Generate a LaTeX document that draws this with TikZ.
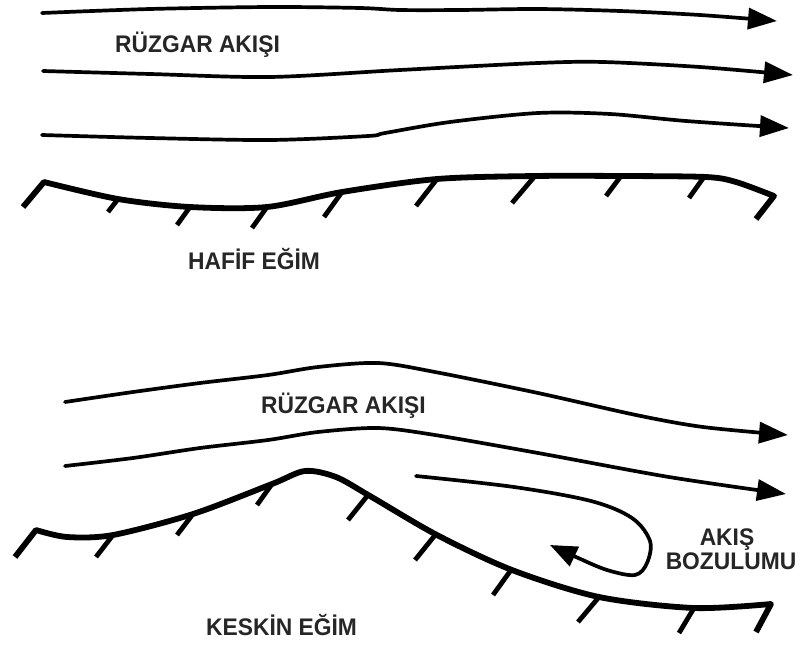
\documentclass[tikz,border=0pt]{standalone}
\usepackage{fontspec}
\setmainfont{Liberation Sans}
\newfontfamily\labelfont[FakeStretch=0.95]{Liberation Sans}
\usetikzlibrary{arrows.meta}
\begin{document}
\begin{tikzpicture}[x=1pt,y=-1pt,
  flow/.style={line width=3.7pt, line cap=round, -{Triangle[length=29pt,width=21pt]}},
  ground/.style={line width=5.8pt, line join=round},
  hatch/.style={line width=4.8pt},
  lbl/.style={font=\labelfont\fontsize{24}{24}\selectfont\bfseries, inner sep=0pt, text=black!85}]
\useasboundingbox[fill=white] (0,0) rectangle (806,648);

% ---------- gentle slope: wind streamlines ----------
\draw[flow] plot[smooth, tension=0.5] coordinates
  {(42,13) (150,9) (270,7) (360,8) (400,10) (460,10) (538,9) (620,11) (700,15) (777,21)};
\draw[flow] plot[smooth, tension=0.5] coordinates
  {(43,71) (150,74) (270,77) (400,70) (538,63) (603,62) (700,67) (793,75)};
\draw[flow] plot[smooth, tension=0.5] coordinates
  {(42,135) (150,138) (270,140) (368,136) (385,133) (450,122) (538,113) (610,114) (686,121) (789,128)};

% ---------- gentle slope: ground ----------
\draw[ground] (23,207) -- plot[smooth, tension=0.5] coordinates
  {(44,182) (118,199) (190,207) (267,207) (342,192) (437,179) (535,176) (622,176) (706,177) (736,182) (774,196)}
  -- (756,219);
\foreach \xa/\ya/\xb/\yb in {118/199/108/212, 190/207/177/225, 267/207/252/228,
    342/192/324/217, 437/179/416/206, 535/176/512/203, 621/176/606/196, 704/177/689/198}
  \draw[hatch] (\xa,\ya) -- (\xb,\yb);

\node[lbl, anchor=base west] (windA) at (115,52) {RÜZGAR AKIŞI};
\node[lbl, anchor=base west] (gentle) at (188,269) {HAFİF EĞİM};

% ---------- steep slope: wind streamlines ----------
\draw[flow] plot[smooth, tension=0.5] coordinates
  {(65,402) (133,392) (200,383) (268,375) (318,367) (378,363) (435,372) (538,393) (636,415) (703,427) (788,435)};
\draw[flow] plot[smooth, tension=0.5] coordinates
  {(65,466) (133,458) (200,448) (268,440) (318,432) (378,428) (435,435) (538,453) (669,477) (786,494)};

% recirculating eddy behind the crest
\draw[line width=3.7pt, line cap=round, -{Triangle[length=27pt,width=21pt]}]
  plot[smooth, tension=0.55] coordinates
  {(416,476) (514,487) (591,501) (632,518) (650,541) (647,563) (635,575) (607,570) (576,557) (550,545)};

% ---------- steep slope: ground ----------
\draw[ground] (15,557) -- plot[smooth, tension=0.5] coordinates
  {(36,530) (67,537) (113,535) (193,514) (272,484) (305,471) (336,477) (370,496) (437,535) (512,570) (599,597) (694,608) (771,604)}
  -- (756,632);
\foreach \xa/\ya/\xb/\yb in {113/535/96/557, 193/514/177/535, 272/484/257/505,
    368/495/348/520, 436/534/415/560, 511/570/493/595, 599/597/578/622, 694/608/679/633}
  \draw[hatch] (\xa,\ya) -- (\xb,\yb);

\node[lbl, anchor=base east] (windB) at (426,413) {RÜZGAR AKIŞI};
\node[lbl, anchor=base] (sep1) at (727,545) {AKIŞ};
\node[lbl, anchor=base] (sep2) at (731,569) {BOZULUMU};
\node[lbl, anchor=base west] (steep) at (206,635) {KESKİN EĞİM};
\end{tikzpicture}
\end{document}
